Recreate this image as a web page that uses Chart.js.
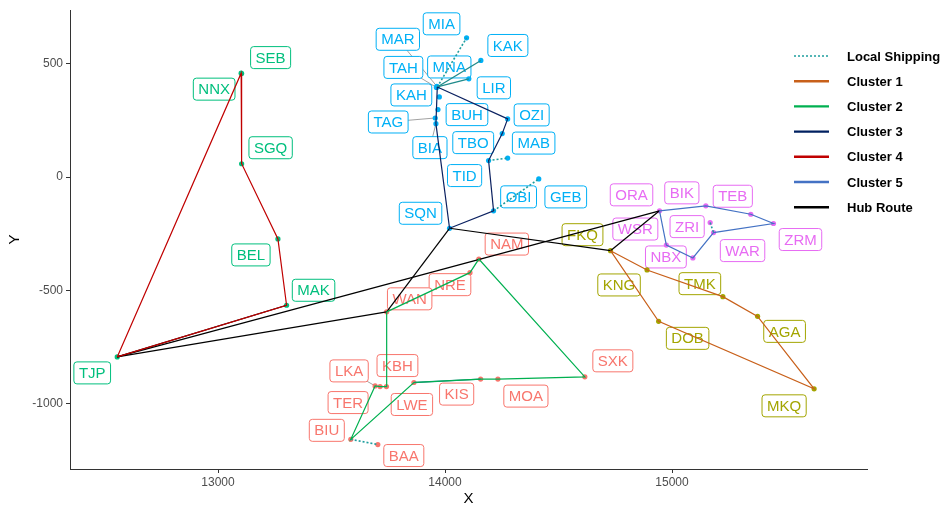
<!DOCTYPE html>
<html><head><meta charset="utf-8">
<script src="https://cdn.jsdelivr.net/npm/chart.js@4/dist/chart.umd.min.js"></script>
<style>html,body{margin:0;padding:0;background:#fff}#wrap{width:949px;height:508px}</style>
</head><body><div id="wrap"><canvas id="c" width="949" height="508"></canvas></div>
<script>
// ---------------- DATA ----------------
const codes = [
  'MIA','KAK','LIR','MNA','MAR','TAH','KAH','BUH','TAG','BIA','OZI','TBO','MAB','TID','OBI','GEB','SQN',
  'ORA','BIK','TEB','ZRM','ZRI','WAR','NBX','WSR',
  'FKQ','KNG','TMK','AGA','MKQ','DOB',
  'SEB','NNX','SGQ','BEL','MAK','TJP',
  'NAM','NRE','WAN','LKA','TER','KBH','LWE','KIS','MOA','SXK','BIU','BAA'
];
const xValues = [
  14095,14158,14105,13966,13964,13962,13975,13969,13957,13960,14276,14252,14276,14192,14214,14413,14020,
  14945,15149,15347,15447,15168,15183,15092,14975,
  14729,14890,15224,15377,15626,14941,
  13104,13102,13104,13264,13302,12556,
  14149,14110,13743,13692,13714,13742,13863,14157,14233,14616,13585,13704
];
const yValues = [
  615,515,434,398,401,396,354,298,261,236,257,192,84,73,-149,-8,-226,
  -149,-127,-164,-205,-201,-245,-357,-300,
  -325,-410,-528,-615,-935,-637,
  457,459,59,-273,-566,-794,
  -362,-422,-595,-922,-925,-925,-907,-892,-892,-882,-1158,-1181
];
const clusterOf = [
  3,3,3,3,3,3,3,3,3,3,3,3,3,3,3,3,3,
  5,5,5,5,5,5,5,5,
  1,1,1,1,1,1,
  4,4,4,4,4,4,
  2,2,2,2,2,2,2,2,2,2,2,2
];
const cluster1Route = ['FKQ','KNG','TMK','AGA','MKQ','DOB','FKQ'];
const cluster2Route = ['WAN','NRE','NAM','SXK','MOA','KIS','LWE','BIU','LKA','TER','KBH','WAN'];
const cluster3Route = ['MNA','OZI','TBO','TID','OBI','SQN','BIA','MNA'];
const cluster4Route = ['TJP','NNX','SGQ','BEL','MAK','TJP'];
const cluster5Route = ['ORA','BIK','TEB','ZRM','WAR','NBX','WSR','ORA'];
const hubLinks = [['TJP','MAK'],['TJP','WAN'],['TJP','ORA'],['WAN','SQN'],['SQN','FKQ'],['FKQ','ORA']];
const localLinks = [['MNA','MIA'],['TID','MAB'],['OBI','GEB'],['ZRI','WAR'],['BIU','BAA']];
const localSolidLinks = [['MNA','KAK'],['MNA','LIR'],['LWE','KIS']];
const xTicks = [13000,14000,15000];
const yTicks = [-1000,-500,0,500];
const legendLabels = ['Local Shipping','Cluster 1','Cluster 2','Cluster 3','Cluster 4','Cluster 5','Hub Route'];

// ---------------- STYLE / LAYOUT ----------------
const pointColors = {1:'#A3A500',2:'#F8766D',3:'#00B0F6',4:'#00BF7D',5:'#E76BF3'};
const routeColors = {local:'#1E9E9E',c1:'#C8601A',c2:'#00B050',c3:'#0B2160',c4:'#C00000',c5:'#4472C4',hub:'#000000'};
const labelOffsets = {
  MIA:[-25,-14],KAK:[27,-15],LIR:[25,9],MNA:[12,-20],MAR:[-39,-47],TAH:[-33,-20],KAH:[-28,-2],BUH:[29,5],
  TAG:[-47,4],BIA:[-6,24],OZI:[24,-4],TBO:[-29,9],MAB:[26,-15],TID:[-24,15],OBI:[25,-14],GEB:[27,18],SQN:[-29,-15],
  ORA:[-28,-16],BIK:[-24,-13],TEB:[-18,-18],ZRM:[27,16],ZRI:[-23,4],WAR:[29,18],NBX:[-27,-1],WSR:[-31,-16],
  FKQ:[-28,-16],KNG:[-28,15],TMK:[-23,-13],AGA:[27,15],MKQ:[-30,17],DOB:[29,17],
  SEB:[29,-16],NNX:[-27,16],SGQ:[29,-16],BEL:[-27,16],MAK:[27,-15],TJP:[-25,16],
  NAM:[28,-15],NRE:[-20,12],WAN:[23,-13],LKA:[-26,-15],TER:[-32,16],KBH:[11,-21],LWE:[-2,22],KIS:[-24,15],
  MOA:[28,17],SXK:[28,-16],BIU:[-24,-9],BAA:[26,11]
};
const leaderLabels = ['MAR','TAH','TAG','BIA','LKA'];

function pt(code){ const i = codes.indexOf(code); return {x:xValues[i], y:yValues[i]}; }
function routeData(r){ return r.map(pt); }

const datasets = [];
function lineDs(data, color, width, dash){
  datasets.push({type:'line', data, borderColor:color, borderWidth:width, borderDash:dash||[], pointRadius:0,
    fill:false, tension:0, showLine:true, clip:false});
}
lineDs(routeData(cluster1Route), routeColors.c1, 1.2);
lineDs(routeData(cluster2Route), routeColors.c2, 1.2);
lineDs(routeData(cluster3Route), routeColors.c3, 1.2);
lineDs(routeData(cluster4Route), routeColors.c4, 1.2);
lineDs(routeData(cluster5Route), routeColors.c5, 1.2);
hubLinks.forEach(l => lineDs(routeData(l), routeColors.hub, 1.2));
localLinks.forEach(l => lineDs(routeData(l), routeColors.local, 1.6, [2,2]));
localSolidLinks.forEach(l => lineDs(routeData(l), '#1F8A8A', 1.3));
[1,2,3,4,5].forEach(c => {
  const data = codes.map((k,i)=>({x:xValues[i],y:yValues[i],c:clusterOf[i]})).filter(p=>p.c===c);
  datasets.push({type:'scatter', data, pointRadius:2.6, pointBackgroundColor:pointColors[c],
    pointBorderColor:pointColors[c], pointBorderWidth:0, showLine:false, clip:false});
});

const labelPlugin = {
  id:'labels',
  beforeDatasetsDraw(chart){
    const ctx = chart.ctx, xs = chart.scales.x, ys = chart.scales.y;
    ctx.save();
    ctx.font = '15px "Liberation Sans", Arial, sans-serif';
    const boxes = codes.map((k,i)=>{
      const px = xs.getPixelForValue(xValues[i]), py = ys.getPixelForValue(yValues[i]);
      const o = labelOffsets[k] || [0,0];
      return {k, px, py, cx:px+o[0], cy:py+o[1], col:pointColors[clusterOf[i]]};
    });
    ctx.strokeStyle = '#8a8a8a'; ctx.lineWidth = 0.8;
    boxes.filter(b=>leaderLabels.includes(b.k)).forEach(b=>{
      ctx.beginPath(); ctx.moveTo(b.px,b.py); ctx.lineTo(b.cx,b.cy); ctx.stroke();
    });
    boxes.forEach(b=>{
      const w = ctx.measureText(b.k).width + 10, h = 22;
      const x0 = b.cx - w/2, y0 = b.cy - h/2;
      ctx.beginPath();
      ctx.roundRect(x0, y0, w, h, 3);
      ctx.fillStyle = '#ffffff'; ctx.fill();
      ctx.strokeStyle = b.col; ctx.lineWidth = 1; ctx.stroke();
      ctx.fillStyle = b.col; ctx.textAlign = 'center'; ctx.textBaseline = 'middle';
      ctx.fillText(b.k, b.cx, b.cy + 1);
    });
    ctx.restore();
  }
};

const legendPlugin = {
  id:'customLegend',
  afterDraw(chart){
    const ctx = chart.ctx;
    const cols = [routeColors.local, routeColors.c1, routeColors.c2, '#002060', routeColors.c4, routeColors.c5, routeColors.hub];
    ctx.save();
    ctx.font = 'bold 13px "Liberation Sans", Arial, sans-serif';
    ctx.textBaseline = 'middle'; ctx.textAlign = 'left';
    legendLabels.forEach((lab,i)=>{
      const y = 56 + i*25.2;
      ctx.beginPath(); ctx.strokeStyle = cols[i];
      ctx.lineWidth = i===0 ? 1.6 : 2.4;
      ctx.setLineDash(i===0 ? [2,2] : []);
      ctx.moveTo(794,y); ctx.lineTo(829,y); ctx.stroke();
      ctx.setLineDash([]);
      ctx.fillStyle = '#000'; ctx.fillText(lab, 847, y+1);
    });
    ctx.restore();
  }
};

new Chart(document.getElementById('c'), {
  type:'scatter',
  data:{datasets},
  options:{
    responsive:false, animation:false, devicePixelRatio:1,
    layout:{padding:{top:10,right:82,left:0,bottom:0}},
    plugins:{legend:{display:false}, tooltip:{enabled:false}},
    scales:{
      x:{type:'linear', min:12348, max:15859,
        afterBuildTicks:s=>{s.ticks = xTicks.map(v=>({value:v}));},
        afterFit:s=>{s.height = 39;},
        grid:{display:true, drawOnChartArea:false, drawTicks:true, tickLength:4, color:'#333'},
        border:{display:true, color:'#333', width:1},
        ticks:{color:'#4D4D4D', font:{size:12, family:'"Liberation Sans", Arial'}, padding:2, maxRotation:0,
          callback:v=>String(v)},
        title:{display:true, text:'X', color:'#000', font:{size:15, family:'"Liberation Sans", Arial'}, padding:{top:0,bottom:0}}
      },
      y:{type:'linear', min:-1289, max:737,
        afterBuildTicks:s=>{s.ticks = yTicks.map(v=>({value:v}));},
        afterFit:s=>{s.width = 70;},
        grid:{display:true, drawOnChartArea:false, drawTicks:true, tickLength:4, color:'#333'},
        border:{display:true, color:'#333', width:1},
        ticks:{color:'#4D4D4D', font:{size:12, family:'"Liberation Sans", Arial'}, padding:3,
          callback:v=>String(v)},
        title:{display:true, text:'Y', color:'#000', font:{size:15, family:'"Liberation Sans", Arial'}, padding:{top:6,bottom:0}}
      }
    }
  },
  plugins:[labelPlugin, legendPlugin]
});
</script>
</body></html>
